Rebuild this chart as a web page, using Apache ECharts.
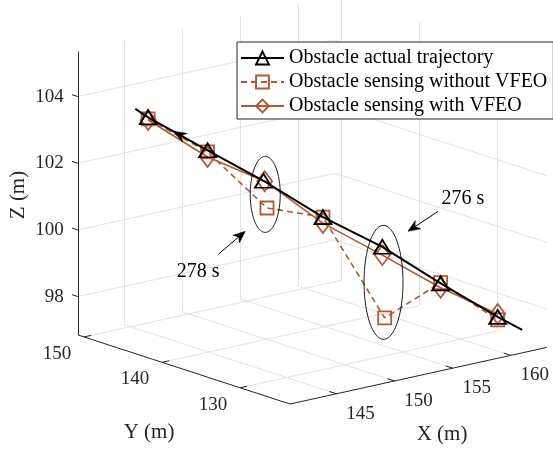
<!DOCTYPE html>
<html><head><meta charset="utf-8">
<script src="https://cdn.jsdelivr.net/npm/echarts@6/dist/echarts.min.js"></script>
<style>html,body{margin:0;padding:0;background:#fff}#c{width:553px;height:452px}</style>
</head><body><div id="c"></div>
<script>
// ---- data (m) ----
const times   = [280, 279, 278, 277, 276, 275, 274];
const actualX = [144.5, 147.6, 150.4, 153.5, 156.6, 159.6, 162.5];
const actualY = [147, 144, 141, 138, 135, 132, 129];
const actualZ = [103.4, 102.4, 101.5, 100.4, 99.5, 98.4, 97.4];
// trajectory curve continues slightly beyond the sampled markers
const trajStart = [143.8, 147.6, 103.66];
const trajEnd   = [163.8, 127.8, 97.0];
const noVfeoX = [144.5, 147.6, 150.7, 153.5, 156.8, 159.6, 162.5];
const noVfeoY = [147, 144, 141, 138, 135, 132, 129];
const noVfeoZ = [103.35, 102.35, 100.66, 100.4, 97.35, 98.42, 97.31];
const vfeoX = [144.5, 147.6, 150.5, 153.5, 156.6, 159.6, 162.5];
const vfeoY = [147, 144, 141, 138, 135, 132, 129];
const vfeoZ = [103.32, 102.2, 101.48, 100.22, 99.25, 98.27, 97.49];
const xTicks = [145, 150, 155, 160];
const yTicks = [130, 140, 150];
const zTicks = [98, 100, 102, 104];
const xLim = [141, 163.1], yLim = [123.6, 150.8], zLim = [96.85, 105.35];
const seriesNames = ['Obstacle actual trajectory', 'Obstacle sensing without VFEO', 'Obstacle sensing with VFEO'];
const annotTimes = [278, 276];

// ---- 3D view (orthographic projection of the axes box) ----
const ORIGIN = [290, 404], EX = [11.62, -2.56], EY = [-7.8, -2.54], EZ = [0, -33.33];
function P(x, y, z) {
  const a = x - xLim[0], b = y - yLim[0], c = z - zLim[0];
  return [ORIGIN[0] + a*EX[0] + b*EY[0] + c*EZ[0], ORIGIN[1] + a*EX[1] + b*EY[1] + c*EZ[1]];
}
const FONT = '"Liberation Serif","Times New Roman",serif';
const ORANGE = '#B25A33';
const AX = '#262626';

// grid segments on back walls and floor
const gridSegs = [];
xTicks.forEach(x => {
  gridSegs.push([P(x, yLim[0], zLim[0]), P(x, yLim[1], zLim[0])]);
  gridSegs.push([P(x, yLim[1], zLim[0]), P(x, yLim[1], zLim[1])]);
});
yTicks.forEach(y => {
  gridSegs.push([P(xLim[0], y, zLim[0]), P(xLim[1], y, zLim[0])]);
  gridSegs.push([P(xLim[1], y, zLim[0]), P(xLim[1], y, zLim[1])]);
});
zTicks.forEach(z => {
  gridSegs.push([P(xLim[0], yLim[1], z), P(xLim[1], yLim[1], z)]);
  gridSegs.push([P(xLim[1], yLim[1], z), P(xLim[1], yLim[0], z)]);
});
// axis lines and ticks
const axisSegs = [
  [P(xLim[0], yLim[1], zLim[0]), P(xLim[0], yLim[1], zLim[1])],
  [P(xLim[0], yLim[1], zLim[0]), P(xLim[0], yLim[0], zLim[0])],
  [P(xLim[0], yLim[0], zLim[0]), P(xLim[1], yLim[0], zLim[0])]
];
const graphics = [];
function txt(x, y, s, size, align, color, extra) {
  graphics.push(Object.assign({type: 'text', x: x, y: y, z: 20,
    style: {text: s, font: size + 'px ' + FONT, fill: color || '#000', align: align || 'center', verticalAlign: 'middle'}}, extra || {}));
}
zTicks.forEach(z => {
  const p = P(xLim[0], yLim[1], z), q = P(xLim[0], yLim[1] + 0.75, z);
  axisSegs.push([p, q]);
  txt(p[0] - 14, p[1], String(z), 19, 'right', AX);
});
yTicks.forEach(y => {
  const p = P(xLim[0], y, zLim[0]), q = P(xLim[0] + 0.6, y, zLim[0]);
  axisSegs.push([p, q]);
  txt(p[0] - 27, p[1] + 17, String(y), 19, 'center', AX);
});
xTicks.forEach(x => {
  const p = P(x, yLim[0], zLim[0]), q = P(x, yLim[0] + 0.9, zLim[0]);
  axisSegs.push([p, q]);
  txt(p[0] + 24, p[1] + 20, String(x), 19, 'center', AX);
});
txt(442, 434, 'X (m)', 21, 'center', AX);
txt(149, 432, 'Y (m)', 21, 'center', AX);
txt(18, 195, 'Z (m)', 21, 'center', AX, {rotation: Math.PI / 2});

// series data
const trajData = [{value: P(trajStart[0], trajStart[1], trajStart[2]), symbol: 'none'}]
  .concat(actualX.map((x, i) => P(x, actualY[i], actualZ[i])))
  .concat([{value: P(trajEnd[0], trajEnd[1], trajEnd[2]), symbol: 'none'}]);
const noData = noVfeoX.map((x, i) => P(x, noVfeoY[i], noVfeoZ[i]));
const wData = vfeoX.map((x, i) => P(x, vfeoY[i], vfeoZ[i]));

function head(tip, from, L, W, N) {
  const dx = tip[0]-from[0], dy = tip[1]-from[1], d = Math.hypot(dx, dy), ux = dx/d, uy = dy/d, px = -uy, py = ux;
  const bx = tip[0]-ux*L, by = tip[1]-uy*L;
  return {pts: [tip, [bx+px*W, by+py*W], [tip[0]-ux*(L-N), tip[1]-uy*(L-N)], [bx-px*W, by-py*W]], notch: [tip[0]-ux*(L-N), tip[1]-uy*(L-N)]};
}
// direction-of-motion arrowhead on the trajectory, midway between the two latest samples
const a0 = P(actualX[0], actualY[0], actualZ[0]), a1 = P(actualX[1], actualY[1], actualZ[1]);
const mid = [(a0[0]+a1[0])/2, (a0[1]+a1[1])/2];
{
  const d = Math.hypot(a0[0]-a1[0], a0[1]-a1[1]);
  const u = [(a0[0]-a1[0])/d, (a0[1]-a1[1])/d];
  const tip = [mid[0] + u[0]*5, mid[1] + u[1]*5];
  const h = head(tip, a1, 13, 5, 4);
  graphics.push({type: 'polygon', z: 18, shape: {points: h.pts}, style: {fill: '#000', stroke: '#000', lineWidth: 0.5}});
}

// annotations: ellipses around the samples at the annotated times
function ellipsePts(c, rx, ry) { const pts = []; for (let i = 0; i < 90; i++) { const t = i / 90 * 2 * Math.PI; pts.push([c[0] + rx*Math.cos(t), c[1] + ry*Math.sin(t)]); } return pts; }
const annotCfg = [
  {rx: 15, ry: 38, tip: [-20, 37], tail: [-47, 60], text: [-67, 77]},
  {rx: 19.5, ry: 57, tip: [24.5, -51], tail: [54.5, -71], text: [79.5, -84]}
];
annotTimes.forEach((t, k) => {
  const i = times.indexOf(t);
  const pa = P(actualX[i], actualY[i], actualZ[i]), pb = P(noVfeoX[i], noVfeoY[i], noVfeoZ[i]);
  const c = [(pa[0]+pb[0])/2, (pa[1]+pb[1])/2];
  const cfg = annotCfg[k];
  graphics.push({type: 'polygon', z: 15, shape: {points: ellipsePts(c, cfg.rx, cfg.ry)}, style: {fill: 'none', stroke: '#000', lineWidth: 0.9}});
  const tip = [c[0]+cfg.tip[0], c[1]+cfg.tip[1]], tail = [c[0]+cfg.tail[0], c[1]+cfg.tail[1]];
  const h = head(tip, tail, 12, 5, 3.5);
  graphics.push({type: 'line', z: 15, shape: {x1: tail[0], y1: tail[1], x2: h.notch[0], y2: h.notch[1]}, style: {stroke: '#000', lineWidth: 1}});
  graphics.push({type: 'polygon', z: 15, shape: {points: h.pts}, style: {fill: '#000', stroke: '#000', lineWidth: 0.5}});
  txt(c[0]+cfg.text[0], c[1]+cfg.text[1], t + ' s', 20);
});

const chart = echarts.init(document.getElementById('c'), null, {renderer: 'canvas'});
chart.setOption({
  animation: false,
  backgroundColor: '#fff',
  grid: {left: 0, right: 0, top: 0, bottom: 0},
  xAxis: {type: 'value', min: 0, max: 553, show: false},
  yAxis: {type: 'value', min: 0, max: 452, inverse: true, show: false},
  legend: {
    left: 237, top: 42, orient: 'vertical', itemWidth: 43, itemHeight: 16, itemGap: 4,
    padding: [6, 6, 3, 3], backgroundColor: '#fff', borderColor: AX, borderWidth: 1, borderRadius: 0,
    textStyle: {fontFamily: FONT, fontSize: 20, color: '#000', lineHeight: 20},
    data: seriesNames, selectedMode: false, z: 30
  },
  graphic: graphics,
  series: [
    {type: 'lines', coordinateSystem: 'cartesian2d', silent: true, z: 1,
     lineStyle: {color: '#e2e2e2', width: 1, opacity: 1}, data: gridSegs.map(s => ({coords: s}))},
    {type: 'lines', coordinateSystem: 'cartesian2d', silent: true, z: 2,
     lineStyle: {color: AX, width: 1, opacity: 1}, data: axisSegs.map(s => ({coords: s}))},
    {name: seriesNames[1], type: 'line', data: noData, silent: true, z: 4,
     symbol: 'rect', symbolSize: 13, showSymbol: true,
     itemStyle: {color: 'rgba(255,255,255,0)', borderColor: ORANGE, borderWidth: 1.8},
     lineStyle: {color: ORANGE, width: 1.6, type: [6, 4]}},
    {name: seriesNames[2], type: 'line', data: wData, silent: true, z: 5,
     symbol: 'diamond', symbolSize: [15, 20], showSymbol: true,
     itemStyle: {color: 'rgba(255,255,255,0)', borderColor: ORANGE, borderWidth: 1.8},
     lineStyle: {color: ORANGE, width: 1.6}},
    {name: seriesNames[0], type: 'line', data: trajData, silent: true, z: 6,
     symbol: 'triangle', symbolSize: [17, 14], showSymbol: true,
     itemStyle: {color: 'rgba(255,255,255,0)', borderColor: '#000', borderWidth: 1.8},
     lineStyle: {color: '#000', width: 2}}
  ]
});
</script></body></html>
